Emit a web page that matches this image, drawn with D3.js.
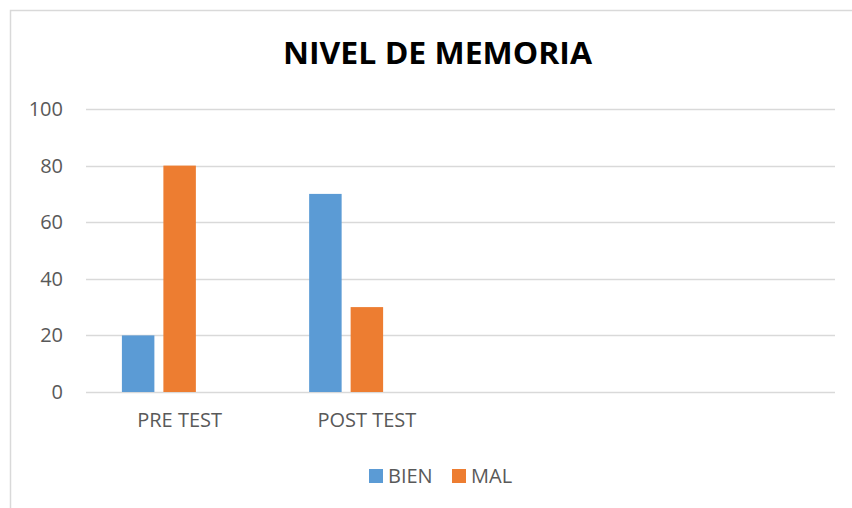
<!DOCTYPE html>
<html>
<head>
<meta charset="utf-8">
<script src="https://cdn.jsdelivr.net/npm/d3@7"></script>
<style>
  html, body { margin: 0; padding: 0; background: #fff; }
  svg { display: block; }
</style>
</head>
<body>
<svg id="chart" width="852" height="508"></svg>
<script>
const categories = ["PRE TEST", "POST TEST", "", ""];
const seriesNames = ["BIEN", "MAL"];
const bienValues = [20, 70, null, null];
const malValues = [80, 30, null, null];
const yTicks = [0, 20, 40, 60, 80, 100];
const title = "NIVEL DE MEMORIA";

const colors = { BIEN: "#5B9BD5", MAL: "#ED7D31" };
const font = "'Open Sans', 'Liberation Sans', sans-serif";
const svg = d3.select("#chart");

// chart border
svg.append("rect").attr("x", 10.5).attr("y", 10.5).attr("width", 860).attr("height", 520)
  .attr("fill", "#fff").attr("stroke", "#d9d9d9").attr("stroke-width", 1.5);

const plot = { left: 86, right: 835, top: 109, bottom: 392 };

const x0 = d3.scaleBand().domain(d3.range(categories.length)).range([plot.left, plot.right]).padding(0);
const gapSide = 35.9;
// three slots per category (the third slot is an empty series, as in the original)
const x1 = d3.scaleBand().domain([0, 1, 2])
  .range([gapSide, x0.bandwidth() - gapSide]).paddingInner(0.217).paddingOuter(0);
const y = d3.scaleLinear().domain([0, 100]).range([plot.bottom, plot.top]);

// gridlines
svg.append("g").selectAll("line").data(yTicks).join("line")
  .attr("x1", plot.left).attr("x2", plot.right)
  .attr("y1", d => Math.round(y(d)) + 0.5).attr("y2", d => Math.round(y(d)) + 0.5)
  .attr("stroke", "#d9d9d9").attr("stroke-width", 1.5);

// y axis labels
const yAxis = d3.axisLeft(y).tickValues(yTicks).tickSize(0).tickPadding(0);
const gy = svg.append("g").attr("transform", `translate(63,0)`).call(yAxis);
gy.select(".domain").remove();
gy.selectAll("text").attr("font-family", font).attr("font-size", 20).attr("fill", "#595959");

// x axis labels
const xAxis = d3.axisBottom(x0).tickFormat(i => categories[i]).tickSize(0).tickPadding(0);
const gx = svg.append("g").attr("transform", `translate(0,${plot.bottom + 21})`).call(xAxis);
gx.select(".domain").remove();
gx.selectAll("text").attr("font-family", font).attr("font-size", 20).attr("fill", "#595959");

// bars
const series = [
  { name: "BIEN", values: bienValues },
  { name: "MAL", values: malValues }
];
series.forEach((s, si) => {
  svg.append("g").selectAll("rect")
    .data(s.values.map((v, i) => ({ i, v })).filter(d => d.v != null))
    .join("rect")
    .attr("x", d => x0(d.i) + x1(si))
    .attr("width", x1.bandwidth())
    .attr("y", d => y(d.v))
    .attr("height", d => y(0) - y(d.v))
    .attr("fill", colors[s.name]);
});

// title
svg.append("text").attr("x", 437.5).attr("y", 64).attr("text-anchor", "middle")
  .attr("font-family", font).attr("font-weight", 700).attr("font-size", 30)
  .attr("fill", "#000").attr("textLength", 309).attr("lengthAdjust", "spacingAndGlyphs")
  .text(title);

// legend
const legendItems = [
  { name: seriesNames[0], sx: 369, tx: 388 },
  { name: seriesNames[1], sx: 452, tx: 471 }
];
const lg = svg.append("g");
legendItems.forEach(it => {
  lg.append("rect").attr("x", it.sx).attr("y", 469).attr("width", 14).attr("height", 14)
    .attr("fill", colors[it.name]);
  lg.append("text").attr("x", it.tx).attr("y", 483).attr("font-family", font)
    .attr("font-size", 20).attr("fill", "#595959").text(it.name);
});
</script>
</body>
</html>
